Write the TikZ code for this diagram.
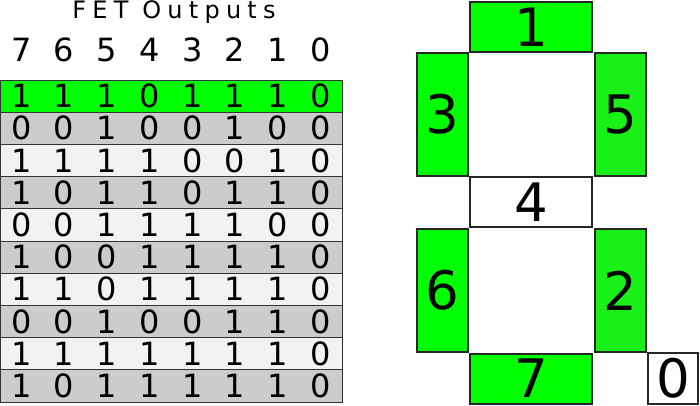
\documentclass[tikz,border=0pt]{standalone}
\usepackage{fontspec}
\setmainfont{DejaVu Sans}
\definecolor{segon}{RGB}{0,255,0}
\definecolor{segonb}{RGB}{24,240,24}
\definecolor{rowdark}{RGB}{204,204,204}
\definecolor{rowlight}{RGB}{242,242,242}
\tikzset{
  bit/.style={font=\fontsize{32}{32}\selectfont, inner sep=0pt},
  rowbox/.style={draw=black!80, line width=1pt, minimum width=342pt, minimum height=32.2pt, inner sep=0pt},
  seg/.style={draw=black!85, line width=2pt, inner sep=0pt, font=\fontsize{53}{53}\selectfont},
  hseg/.style={seg, minimum width=122pt, minimum height=50pt},
  vseg/.style={seg, minimum width=51pt, minimum height=123pt},
}
\begin{document}
\begin{tikzpicture}[x=1pt,y=-1pt]
\useasboundingbox (0,0) rectangle (700,405);

% table of FET outputs
\node[font=\fontsize{24}{24}\selectfont, inner sep=0pt] (title) at (174,12) {\addfontfeature{LetterSpace=26}FET Outputs};
\foreach \n [count=\c from 0] in {7,6,...,0}
  \node[bit] (h\n) at (21.4+42.75*\c,50) {\n};

\foreach \fillc/\bits [count=\r] in {
  segon/{1,1,1,0,1,1,1,0}, rowdark/{0,0,1,0,0,1,0,0},
  rowlight/{1,1,1,1,0,0,1,0}, rowdark/{1,0,1,1,0,1,1,0},
  rowlight/{0,0,1,1,1,1,0,0}, rowdark/{1,0,0,1,1,1,1,0},
  rowlight/{1,1,0,1,1,1,1,0}, rowdark/{0,0,1,0,0,1,1,0},
  rowlight/{1,1,1,1,1,1,1,0}, rowdark/{1,0,1,1,1,1,1,0}} {
  \pgfmathsetmacro\y{96.1+32.2*(\r-1)}
  \node[rowbox, fill=\fillc] (row\r) at (171,\y) {};
  \foreach \b [count=\c from 0] in \bits
    \node[bit] (b\r-\c) at (21.4+42.75*\c,\y) {\b};
}

% seven segment display
\node[hseg, fill=segon] (s1) at (531,27) {1};
\node[vseg, fill=segon] (s3) at (442.5,114.5) {3};
\node[vseg, fill=segonb] (s5) at (620,114.5) {5};
\node[hseg, fill=white] (s4) at (531,202) {4};
\node[vseg, fill=segon] (s6) at (442.5,290.5) {6};
\node[vseg, fill=segonb] (s2) at (620,290.5) {2};
\node[hseg, fill=segon] (s7) at (531,378.5) {7};
\node[seg, fill=white, minimum width=50pt, minimum height=51pt] (s0) at (673,378.5) {0};
\end{tikzpicture}
\end{document}
